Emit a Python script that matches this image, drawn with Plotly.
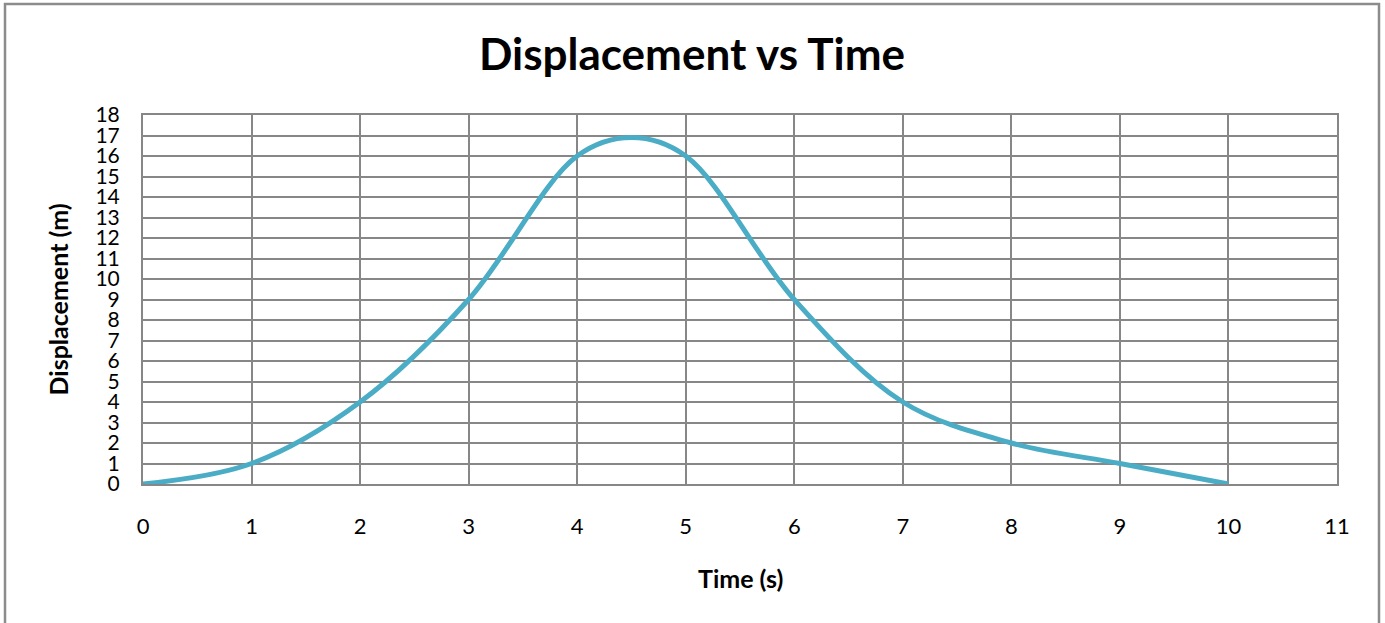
import plotly.graph_objects as go

time_s = [0, 1, 2, 3, 4, 4.5, 5, 6, 7, 8, 9, 10]
displacement_m = [0, 1, 4, 9, 16, 16.9, 16, 9, 4, 2, 1, 0]
x_ticks = list(range(0, 12))
y_ticks = list(range(0, 19))

W, H = 1385, 623
L, R, T, B = 143, 1337, 115, 484
pw, ph = R - L, B - T

FONT = "Lato, Calibri, sans-serif"
GRID = "#878787"

fig = go.Figure()
fig.add_trace(go.Scatter(
    x=time_s, y=displacement_m, mode="lines",
    line=dict(color="#4BACC6", width=5, shape="spline", smoothing=1),
    showlegend=False, hoverinfo="x+y",
))

axis_common = dict(
    showgrid=True, gridcolor=GRID, gridwidth=1.5,
    showline=True, linecolor=GRID, linewidth=2, mirror=True,
    zeroline=False, ticks="",
)

fig.update_xaxes(range=[0, 11], tickvals=x_ticks, ticktext=[str(v) for v in x_ticks],
                 ticklabelstandoff=22, tickfont=dict(family=FONT, size=22, color="#000"),
                 **axis_common)
fig.update_yaxes(range=[0, 18], tickvals=y_ticks, ticktext=[str(v) for v in y_ticks],
                 ticklabelstandoff=17, tickfont=dict(family=FONT, size=21, color="#000"),
                 **axis_common)

fig.update_layout(
    width=W, height=H,
    margin=dict(l=L, r=W - R, t=T, b=H - B, autoexpand=False),
    paper_bgcolor="white", plot_bgcolor="white",
    title=dict(text="<b>Displacement vs Time</b>", x=692 / W, xanchor="center",
               y=1 - 55 / H, yanchor="middle", yref="container",
               font=dict(family=FONT, size=44, color="#000")),
    annotations=[
        dict(text="<b>Displacement (m)</b>", xref="paper", yref="paper",
             x=(57 - L) / pw, y=0.5, xanchor="center", yanchor="middle",
             textangle=-90, showarrow=False,
             font=dict(family=FONT, size=25, color="#000")),
        dict(text="<b>Time (s)</b>", xref="paper", yref="paper",
             x=(740 - L) / pw, y=(B - 578) / ph, xanchor="center", yanchor="middle",
             showarrow=False, font=dict(family=FONT, size=25, color="#000")),
    ],
    shapes=[
        dict(type="rect", xref="paper", yref="paper",
             x0=(5 - L) / pw, x1=(1379 - L) / pw,
             y0=(B - 640) / ph, y1=(B - 4) / ph,
             line=dict(color="#8C8C8C", width=2.5), fillcolor="rgba(0,0,0,0)",
             layer="below"),
    ],
)

fig.write_html(
    "out.html",
    config={"displayModeBar": False},
    post_script="document.body.style.margin='0px';document.body.style.overflow='hidden';",
)
